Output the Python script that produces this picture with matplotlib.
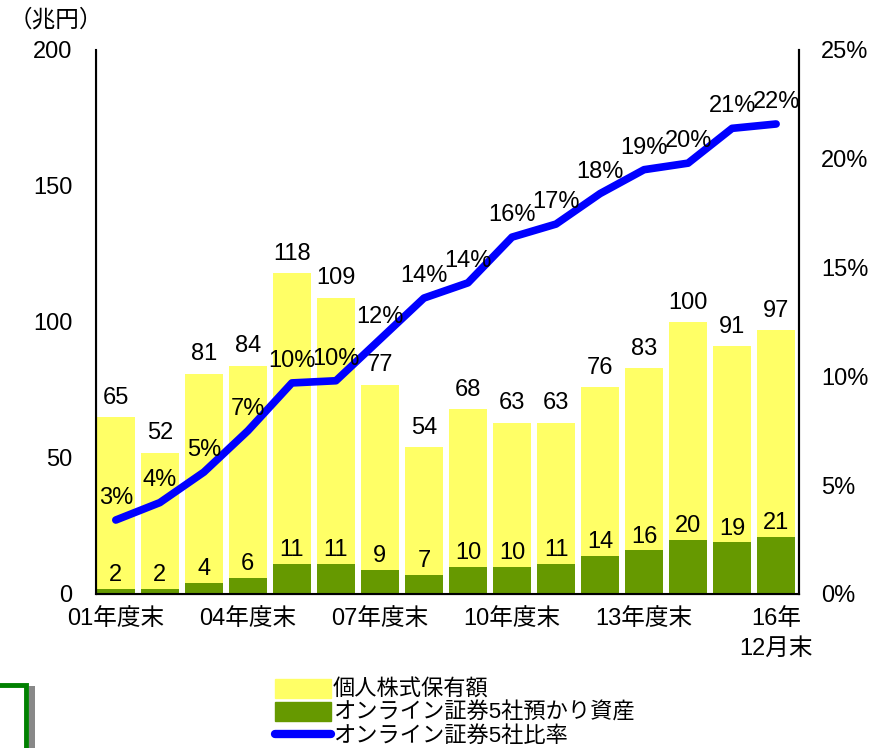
import numpy as np
import matplotlib.pyplot as plt
from matplotlib.patches import Rectangle, Patch
from matplotlib.lines import Line2D

plt.rcParams['font.family'] = ['Liberation Sans', 'Noto Sans CJK JP', 'DejaVu Sans']

categories = ['01年度末', '02年度末', '03年度末', '04年度末', '05年度末', '06年度末',
              '07年度末', '08年度末', '09年度末', '10年度末', '11年度末', '12年度末',
              '13年度末', '14年度末', '15年度末', '16年\n12月末']
kojin = [65, 52, 81, 84, 118, 109, 77, 54, 68, 63, 63, 76, 83, 100, 91, 97]
online = [2, 2, 4, 6, 11, 11, 9, 7, 10, 10, 11, 14, 16, 20, 19, 21]
ratio = [3.4, 4.2, 5.6, 7.5, 9.7, 9.8, 11.7, 13.6, 14.3, 16.4, 17.0, 18.4, 19.5, 19.8, 21.4, 21.6]
ratio_labels = ['3%', '4%', '5%', '7%', '10%', '10%', '12%', '14%', '14%', '16%',
                '17%', '18%', '19%', '20%', '21%', '22%']
tick_idx = [0, 3, 6, 9, 12, 15]

yellow = '#FFFF66'
green = '#669900'
blue = '#0000FF'
fs = 17

fig = plt.figure(figsize=(8.87, 7.48), dpi=100)
ax = fig.add_axes([96 / 887, 1 - 594 / 748, (799 - 96) / 887, (594 - 50) / 748])
x = np.arange(len(categories))

ax.bar(x, kojin, width=0.86, color=yellow, zorder=1)
ax.bar(x, online, width=0.86, color=green, zorder=2)
ax.set_ylim(0, 200)
ax.set_xlim(-0.45, 15.52)
ax.set_yticks([0, 50, 100, 150, 200])
ax.set_xticks(tick_idx)
ax.set_xticklabels([categories[i] for i in tick_idx], linespacing=1.5)
ax.tick_params(length=0, labelsize=fs, pad=17)
ax.tick_params(axis='x', pad=10)
ax.spines['top'].set_visible(False)
for s in ['left', 'right', 'bottom']:
    ax.spines[s].set_linewidth(1.5)

for xi, v in zip(x, kojin):
    ax.annotate(str(v), (xi, v), xytext=(0, 6), textcoords='offset points',
                ha='center', va='bottom', fontsize=fs)
for xi, v in zip(x, online):
    ax.annotate(str(v), (xi, v), xytext=(0, 2), textcoords='offset points',
                ha='center', va='bottom', fontsize=fs)

ax2 = ax.twinx()
ax2.plot(x, ratio, color=blue, linewidth=5.5, solid_capstyle='round', zorder=3)
ax2.set_ylim(0, 25)
ax2.set_yticks([0, 5, 10, 15, 20, 25])
ax2.set_yticklabels([f'{t}%' for t in [0, 5, 10, 15, 20, 25]])
ax2.tick_params(length=0, labelsize=fs, pad=16)
ax2.spines['top'].set_visible(False)
ax2.spines['right'].set_linewidth(1.5)
for xi, v, lab in zip(x, ratio, ratio_labels):
    ax2.annotate(lab, (xi, v), xytext=(0, 8), textcoords='offset points',
                 ha='center', va='bottom', fontsize=fs)

fig.text(0.01, 1 - 20 / 748, '（兆円）', fontsize=fs, va='center', ha='left')

handles = [Patch(color=yellow), Patch(color=green), Line2D([], [], color=blue, linewidth=6,
                                                          solid_capstyle='round')]
labels = ['個人株式保有額', 'オンライン証券5社預かり資産', 'オンライン証券5社比率']
fig.legend(handles, labels, loc='upper left', bbox_to_anchor=(264 / 887, 1 - 668 / 748),
           frameon=False, fontsize=16, handlelength=2.5, handleheight=0.9,
           handletextpad=0.1, labelspacing=0.05, borderpad=0)

# partial box at bottom-left corner
fig.patches.append(Rectangle((29 / 887, -0.1), 6 / 887, 1 - 686 / 748 + 0.1,
                             transform=fig.transFigure, facecolor='#888888', edgecolor='none'))
fig.patches.append(Rectangle((-0.1, -0.1), 0.1 + 25.5 / 887, 1 - 684.5 / 748 + 0.1,
                             transform=fig.transFigure, facecolor='white',
                             edgecolor='#008000', linewidth=3.5))

fig.savefig('out.png', dpi=100)
